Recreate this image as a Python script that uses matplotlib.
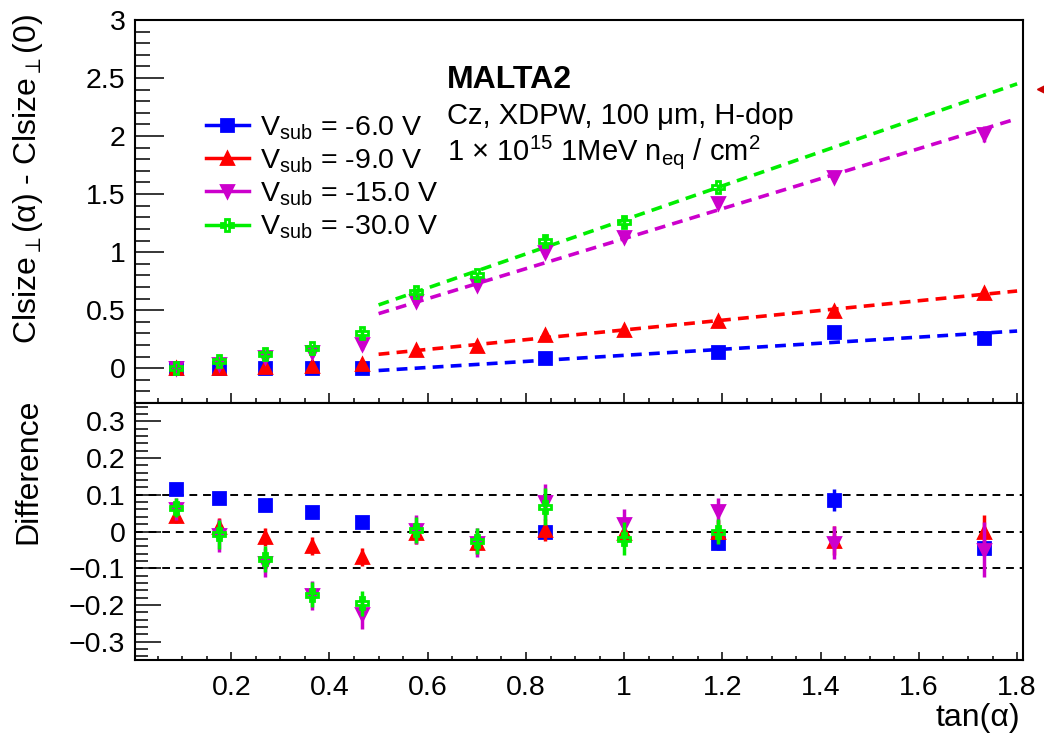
import matplotlib
matplotlib.use("Agg")
import matplotlib.pyplot as plt
from matplotlib.lines import Line2D
from matplotlib.ticker import MultipleLocator, FuncFormatter
import numpy as np

plt.rcParams['font.family'] = ['Liberation Sans', 'DejaVu Sans']
plt.rcParams['mathtext.fontset'] = 'custom'
plt.rcParams['mathtext.rm'] = 'Liberation Sans'
plt.rcParams['mathtext.it'] = 'Liberation Sans:italic'
plt.rcParams['mathtext.bf'] = 'Liberation Sans:bold'

# tan(alpha) points
tan_a = [0.088, 0.176, 0.268, 0.364, 0.466, 0.577, 0.700, 0.839, 1.000, 1.192, 1.428, 1.732]
nan = np.nan

# upper panel: Clsize(alpha) - Clsize(0)
top_m6 = [0.0, 0.0, 0.0, 0.0, 0.0, nan, nan, 0.086, nan, 0.14, 0.31, 0.26]
top_m9 = [0.0, 0.0, 0.01, 0.02, 0.04, 0.155, 0.19, 0.284, 0.33, 0.41, 0.49, 0.645]
top_m15 = [0.0, 0.04, 0.10, 0.14, 0.21, 0.58, 0.72, 1.00, 1.13, 1.42, 1.65, 2.02]
top_m30 = [0.0, 0.06, 0.12, 0.17, 0.30, 0.66, 0.80, 1.10, 1.26, 1.56, nan, nan]
top_err_m6 = [0.01, 0.01, 0.01, 0.01, 0.01, nan, nan, 0.01, nan, 0.015, 0.02, 0.02]
top_err_m9 = [0.01, 0.01, 0.015, 0.015, 0.02, 0.02, 0.02, 0.02, 0.02, 0.02, 0.025, 0.03]
top_err_m15 = [0.01, 0.02, 0.03, 0.04, 0.05, 0.03, 0.03, 0.04, 0.04, 0.03, 0.04, 0.07]
top_err_m30 = [0.01, 0.02, 0.03, 0.03, 0.04, 0.03, 0.03, 0.05, 0.04, 0.03, nan, nan]

# linear fits (value at tan=0.5 and at tan=1.8)
fit_x = [0.5, 1.8]
fit_m6 = [-0.02, 0.32]
fit_m9 = [0.12, 0.665]
fit_m15 = [0.47, 2.15]
fit_m30 = [0.545, 2.45]

# lower panel: difference data - fit
diff_m6 = [0.117, 0.090, 0.071, 0.052, 0.025, nan, nan, 0.0, nan, -0.03, 0.087, -0.045]
diff_m9 = [0.042, 0.012, -0.015, -0.04, -0.07, -0.003, -0.03, 0.005, -0.005, 0.0, -0.025, 0.0]
diff_m15 = [0.062, -0.01, -0.085, -0.174, -0.225, 0.005, -0.03, 0.08, 0.02, 0.055, -0.03, -0.05]
diff_m30 = [0.065, -0.008, -0.075, -0.172, -0.196, 0.005, -0.025, 0.068, -0.02, 0.0, nan, nan]
derr_m6 = [0.01, 0.01, 0.01, 0.01, 0.01, nan, nan, 0.015, nan, 0.02, 0.03, 0.02]
derr_m9 = [0.02, 0.025, 0.025, 0.025, 0.025, 0.03, 0.03, 0.03, 0.03, 0.03, 0.04, 0.045]
derr_m15 = [0.03, 0.045, 0.04, 0.04, 0.04, 0.04, 0.04, 0.05, 0.04, 0.035, 0.045, 0.075]
derr_m30 = [0.025, 0.04, 0.035, 0.035, 0.035, 0.035, 0.035, 0.05, 0.045, 0.035, nan, nan]

labels = [r"V$_{\rm sub}$ = -6.0 V", r"V$_{\rm sub}$ = -9.0 V",
          r"V$_{\rm sub}$ = -15.0 V", r"V$_{\rm sub}$ = -30.0 V"]
colors = ["#0000ff", "#ff0000", "#cc00cc", "#00ee00"]
markers = ["s", "^", "v", "P"]
filled = [True, True, True, False]

top_vals = [top_m6, top_m9, top_m15, top_m30]
top_errs = [top_err_m6, top_err_m9, top_err_m15, top_err_m30]
fits = [fit_m6, fit_m9, fit_m15, fit_m30]
diff_vals = [diff_m6, diff_m9, diff_m15, diff_m30]
diff_errs = [derr_m6, derr_m9, derr_m15, derr_m30]

W, H = 1044, 737
fig = plt.figure(figsize=(W / 100, H / 100), dpi=100)
left, right = 135 / W, 1023 / W
ax1 = fig.add_axes([left, 1 - 403 / H, right - left, (403 - 20) / H])
ax2 = fig.add_axes([left, 1 - 660 / H, right - left, (660 - 403) / H], sharex=ax1)

fs = 20.5


def fmt(v, pos):
    s = "%g" % round(v, 3)
    return s.replace("-", "\u2212")


for ax in (ax1, ax2):
    for sp in ax.spines.values():
        sp.set_linewidth(1.5)
    ax.tick_params(which='both', direction='in', top=False, right=False, width=1.1,
                   labelsize=fs)
    ax.tick_params(axis='x', which='major', length=7)
    ax.tick_params(axis='x', which='minor', length=3.5)
    ax.tick_params(axis='y', which='major', length=21, pad=7)
    ax.tick_params(axis='y', which='minor', length=10.5)
    ax.xaxis.set_major_locator(MultipleLocator(0.2))
    ax.xaxis.set_minor_locator(MultipleLocator(0.05))
    ax.yaxis.set_major_formatter(FuncFormatter(fmt))
    ax.xaxis.set_major_formatter(FuncFormatter(fmt))

ax1.set_xlim(0.004, 1.812)
ax1.set_ylim(-0.30, 3.0)
ax1.yaxis.set_major_locator(MultipleLocator(0.5))
ax1.yaxis.set_minor_locator(MultipleLocator(0.1))
ax1.tick_params(axis='x', labelbottom=False)

ax2.set_ylim(-0.35, 0.35)
ax2.yaxis.set_major_locator(MultipleLocator(0.1))
ax2.yaxis.set_minor_locator(MultipleLocator(0.02))
ax2.tick_params(axis='x', which='major', length=6, pad=11)
ax2.tick_params(axis='x', which='minor', length=3)
ax2.tick_params(axis='y', which='major', length=19)
ax2.tick_params(axis='y', which='minor', length=9.5)

for y0 in (0.1, 0.0, -0.1):
    ax2.axhline(y0, color='black', lw=1.4, dashes=(4, 3), zorder=1)

handles = []
for i in range(4):
    c = colors[i]
    fc = c if filled[i] else 'none'
    ax1.errorbar(tan_a, top_vals[i], yerr=top_errs[i], fmt='none', ecolor=c,
                 elinewidth=2.5, capsize=0, zorder=3 + i)
    ax1.plot(tan_a, top_vals[i], ls='none', marker=markers[i], ms=9,
             mfc=fc, mec=c, mew=2, zorder=3 + i)
    ax1.plot(fit_x, fits[i], color=c, lw=2.6, dashes=(3, 2), zorder=2)
    ax2.errorbar(tan_a, diff_vals[i], yerr=diff_errs[i], fmt='none', ecolor=c,
                 elinewidth=2.5, capsize=0, zorder=3 + i)
    ax2.plot(tan_a, diff_vals[i], ls='none', marker=markers[i], ms=9,
             mfc=fc, mec=c, mew=2, zorder=3 + i)
    handles.append(Line2D([], [], color=c, lw=2.5, marker=markers[i], ms=9,
                          mfc=fc, mec=c, mew=2))

leg = fig.legend(handles, labels, loc='upper left', bbox_to_anchor=(206 / W, 1 - 114 / H),
                 frameon=False, fontsize=fs, handlelength=1.5, handletextpad=0.4,
                 labelspacing=0.2, borderpad=0, borderaxespad=0)

fig.text(447 / W, 1 - 88 / H, "MALTA2", fontsize=23, fontweight='bold', ha='left', va='baseline')
fig.text(447 / W, 1 - 124 / H, "Cz, XDPW, 100 \u03bcm, H-dop", fontsize=21, ha='left', va='baseline')
fig.text(447 / W, 1 - 160 / H, r"1 $\times$ 10$^{15}$ 1MeV n$_{\rm eq}$ / cm$^{2}$", fontsize=21,
         ha='left', va='baseline')

fig.text(28 / W, 1 - 14 / H, r"Clsize$_{\perp}$(α) - Clsize$_{\perp}$(0)", fontsize=23,
         rotation=90, ha='center', va='top')
fig.text(28 / W, 1 - 399 / H, "Difference", fontsize=23, rotation=90, ha='center', va='top')
fig.text(1020 / W, 1 - 733 / H, "tan(α)", fontsize=23, ha='right', va='bottom')

# clipped arrow tip at the right edge
fig.add_artist(Line2D([1041 / W], [1 - 89 / H], marker='<', color='#cc0000', ms=6,
                      transform=fig.transFigure))

fig.savefig("out.png", dpi=100)
